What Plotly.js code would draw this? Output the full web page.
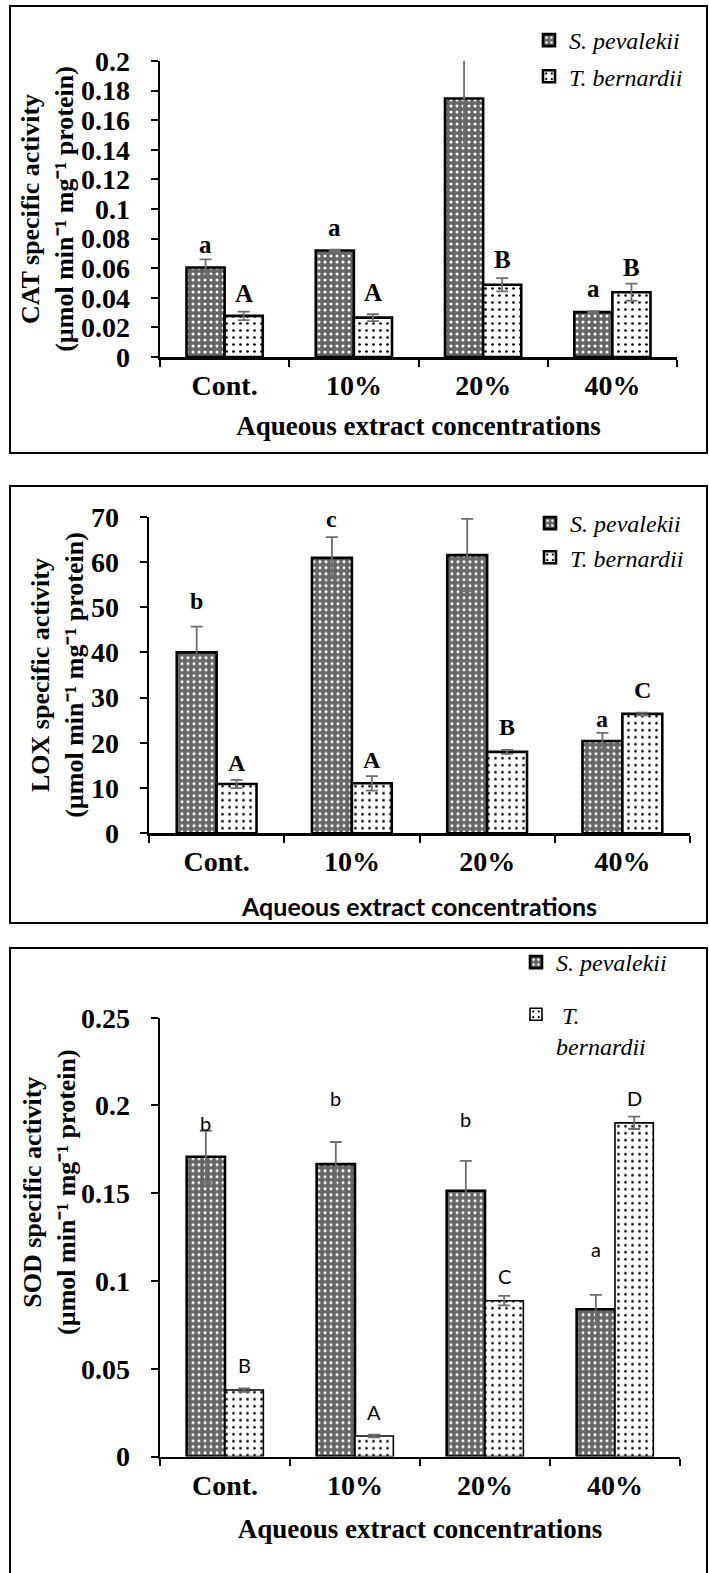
<!DOCTYPE html>
<html>
<head>
<meta charset="utf-8">
<script src="https://cdn.plot.ly/plotly-3.0.1.min.js"></script>
<style>
  html, body { margin: 0; padding: 0; background: #fff; }
  #chart { width: 709px; height: 1573px; }
</style>
</head>
<body>
<div id="chart"></div>
<script>
// ---------------- DATA ----------------
const categories = ['Cont.', '10%', '20%', '40%'];
const seriesNames = ['S. pevalekii', 'T. bernardii'];

// CAT specific activity
const catSp = [0.0605, 0.072, 0.1747, 0.0303];
const catSpErr = [0.0054, 0.0006, 0.032, 0.0006];
const catTb = [0.0278, 0.0266, 0.0488, 0.0438];
const catTbErr = [0.0029, 0.0023, 0.0045, 0.0058];
const catSpLetters = ['a', 'a', 'b', 'a'];
const catTbLetters = ['A', 'A', 'B', 'B'];
const catSpLetterY = [0.0759, 0.0874, 0.2194, 0.0461];
const catTbLetterY = [0.0427, 0.0433, 0.0657, 0.0603];

// LOX specific activity
const loxSp = [40.0, 60.9, 61.5, 20.4];
const loxSpErr = [5.7, 4.6, 8.0, 1.8];
const loxTb = [10.9, 11.05, 18.0, 26.4];
const loxTbErr = [0.9, 1.6, 0.45, 0.3];
const loxSpLetters = ['b', 'c', 'c', 'a'];
const loxTbLetters = ['A', 'A', 'B', 'C'];
const loxSpLetterY = [51.4, 69.5, 72.2, 25.3];
const loxTbLetterY = [15.6, 16.2, 23.5, 31.7];

// SOD specific activity
const sodSp = [0.1708, 0.1666, 0.1514, 0.0839];
const sodSpErr = [0.0148, 0.0126, 0.017, 0.0082];
const sodTb = [0.0379, 0.0117, 0.0888, 0.1901];
const sodTbErr = [0.001, 0.0008, 0.0027, 0.0035];
const sodSpLetters = ['b', 'b', 'b', 'a'];
const sodTbLetters = ['B', 'A', 'C', 'D'];
const sodSpLetterY = [0.1898, 0.2042, 0.1923, 0.1182];
const sodTbLetterY = [0.0522, 0.0256, 0.1028, 0.2044];

// ---------------- STYLE / LAYOUT ----------------
const W = 709, H = 1573;
const fx = px => px / W;
const fy = px => 1 - px / H;
const SERIF = '"Liberation Serif", "Times New Roman", serif';
const SANS = 'Lato, Carlito, Calibri, sans-serif';
const bargap = 0.41;
const half = (1 - bargap) / 4;

const spPattern = {shape: '.', fgcolor: '#ffffff', bgcolor: '#666666', size: 6, solidity: 0.2};
const tbPattern = {shape: '.', fgcolor: '#000000', bgcolor: '#ffffff', size: 7, solidity: 0.12};
const errStyle = {color: '#6e6e6e', thickness: 1.8, width: 6};

function barTrace(name, ys, errs, xa, ya, legend, pattern, lw, group) {
  return {
    type: 'bar', name: name, x: categories, y: ys,
    xaxis: xa, yaxis: ya, legend: legend, legendgroup: group,
    marker: {color: pattern.bgcolor, pattern: pattern, line: {color: '#000', width: lw}},
    error_y: Object.assign({type: 'data', array: errs, visible: true}, errStyle),
    cliponaxis: false, hoverinfo: 'skip'
  };
}

const data = [
  barTrace(seriesNames[0], catSp, catSpErr, 'x', 'y', 'legend', spPattern, 2.6, 'a1'),
  barTrace(seriesNames[1], catTb, catTbErr, 'x', 'y', 'legend', tbPattern, 2.6, 'b1'),
  barTrace(seriesNames[0], loxSp, loxSpErr, 'x2', 'y2', 'legend2', spPattern, 2.6, 'g2'),
  barTrace(seriesNames[1], loxTb, loxTbErr, 'x2', 'y2', 'legend2', tbPattern, 2.6, 'g2'),
  barTrace(seriesNames[0], sodSp, sodSpErr, 'x3', 'y3', 'legend3', spPattern, 2.6, 'a3'),
  barTrace('\u00a0T.<br>bernardii', sodTb, sodTbErr, 'x3', 'y3', 'legend3', tbPattern, 1.6, 'b3')
];

function xAxis(domain, anchor, titleFont, standoff) {
  return {
    domain: domain, anchor: anchor, type: 'category',
    tickson: 'boundaries', ticks: 'outside', ticklen: 7, tickwidth: 2, tickcolor: '#000',
    showline: true, linewidth: 2.5, linecolor: '#000', showgrid: false, zeroline: false,
    tickfont: {family: SERIF, size: 28, color: '#000', weight: 'bold'},
    ticklabelstandoff: 2,
    title: {text: 'Aqueous extract concentrations', font: titleFont, standoff: standoff},
    fixedrange: true
  };
}
function yAxis(domain, anchor, range, dtick, titleText) {
  const ax = {
    domain: domain, anchor: anchor, range: range, dtick: dtick, tick0: 0,
    ticks: 'outside', ticklen: 7, tickwidth: 2, tickcolor: '#000',
    showline: true, linewidth: 2.5, linecolor: '#000', showgrid: false, zeroline: false,
    tickfont: {family: SERIF, size: 28, color: '#000', weight: 'bold'},
    ticklabelstandoff: 15,
    fixedrange: true
  };
  if (titleText) ax.title = {text: titleText, font: {family: SERIF, size: 26, color: '#000', weight: 'bold'}, standoff: 0};
  return ax;
}

const unitLine = '(\u00b5mol min\u207b\u00b9 mg\u207b\u00b9 protein)';
const serifTitleFont = {family: SERIF, size: 27, color: '#000', weight: 'bold'};
const sansTitleFont = {family: SANS, size: 25, color: '#000', weight: 'bold'};

function letterAnns(xa, ya, spL, spY, tbL, tbY, font) {
  const out = [];
  categories.forEach((c, i) => {
    out.push({xref: xa, yref: ya, x: i - half, y: spY[i], text: spL[i], showarrow: false, font: font, yanchor: 'middle'});
    out.push({xref: xa, yref: ya, x: i + half, y: tbY[i], text: tbL[i], showarrow: false, font: font, yanchor: 'middle'});
  });
  return out;
}

const boldSerif24 = {family: SERIF, size: 25, color: '#000', weight: 'bold'};
const boldSerif22 = {family: SERIF, size: 24, color: '#000', weight: 'bold'};
const sans19 = {family: SANS, size: 20, color: '#000'};

const annotations = []
  .concat(letterAnns('x', 'y', catSpLetters, catSpLetterY, catTbLetters, catTbLetterY, boldSerif24))
  .concat(letterAnns('x2', 'y2', loxSpLetters, loxSpLetterY, loxTbLetters, loxTbLetterY, boldSerif22))
  .concat(letterAnns('x3', 'y3', sodSpLetters, sodSpLetterY, sodTbLetters, sodTbLetterY, sans19));

annotations.push({
  xref: 'paper', yref: 'paper', x: fx(49), y: fy(1192), xanchor: 'center', yanchor: 'middle',
  textangle: -90, showarrow: false, font: {family: SERIF, size: 26, color: '#000', weight: 'bold'},
  text: 'SOD specific activity<br>' + unitLine
});

function box(top, bottom) {
  return {type: 'rect', xref: 'paper', yref: 'paper', x0: fx(10), x1: fx(707), y0: fy(bottom), y1: fy(top),
          line: {color: '#000', width: 2}, fillcolor: 'rgba(0,0,0,0)', layer: 'below'};
}

const legendFont = {family: SERIF, size: 24, color: '#000', style: 'italic'};
function legendBox(xpx, ypx, gap) {
  return {x: fx(xpx), y: fy(ypx), xanchor: 'left', yanchor: 'top', bgcolor: 'rgba(0,0,0,0)',
          borderwidth: 0, font: legendFont, tracegroupgap: gap, itemwidth: 30, valign: 'top'};
}

const layout = {
  width: W, height: H,
  margin: {l: 0, r: 0, t: 0, b: 0},
  paper_bgcolor: '#fff', plot_bgcolor: '#fff',
  barmode: 'group', bargap: bargap, bargroupgap: 0,
  showlegend: true,
  xaxis: xAxis([fx(160), fx(677)], 'y', serifTitleFont, 16),
  yaxis: yAxis([fy(357), fy(61)], 'x', [0, 0.2], 0.02, 'CAT specific activity<br>' + unitLine),
  xaxis2: xAxis([fx(149), fx(690)], 'y2', sansTitleFont, 22),
  yaxis2: yAxis([fy(833.3), fy(516.7)], 'x2', [0, 70], 10, 'LOX specific activity<br>' + unitLine),
  xaxis3: xAxis([fx(160), fx(680)], 'y3', serifTitleFont, 20),
  yaxis3: yAxis([fy(1456.6), fy(1017.7)], 'x3', [0, 0.25], 0.05, null),
  legend: legendBox(529, 18, 2),
  legend2: legendBox(530, 501, 0),
  legend3: legendBox(516, 940, 18),
  shapes: [box(6, 453), box(486, 923), box(948, 1600)],
  annotations: annotations,
  font: {family: SERIF, color: '#000'}
};

Plotly.newPlot('chart', data, layout, {staticPlot: true, displayModeBar: false});
</script>
</body>
</html>
